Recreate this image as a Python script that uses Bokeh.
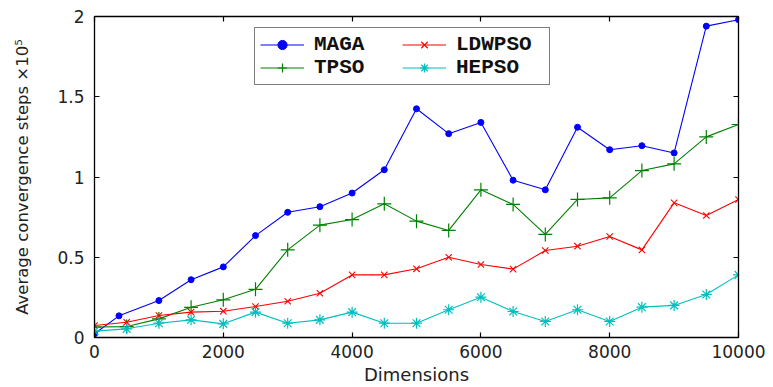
from bokeh.plotting import figure
from bokeh.models import (LinearAxis, Legend, LegendItem, FixedTicker, Range1d,
                          CustomLabelingPolicy)
from bokeh.embed import file_html
from bokeh.resources import INLINE

# ---- data ----
maga_x = [0, 380, 1000, 1500, 2000, 2500, 3000, 3500, 4000, 4500, 5000,
          5500, 6000, 6500, 7000, 7500, 8000, 8500, 9000, 9500, 10000]
maga_y = [0.023, 0.135, 0.23, 0.36, 0.44, 0.635, 0.78, 0.815, 0.90, 1.045, 1.425,
          1.27, 1.34, 0.98, 0.92, 1.31, 1.17, 1.195, 1.15, 1.94, 1.98]

dims = [0, 500, 1000, 1500, 2000, 2500, 3000, 3500, 4000, 4500, 5000,
        5500, 6000, 6500, 7000, 7500, 8000, 8500, 9000, 9500, 10000]
tpso_y = [0.065, 0.068, 0.116, 0.188, 0.235, 0.30, 0.546, 0.70, 0.735, 0.833, 0.725,
          0.667, 0.92, 0.829, 0.642, 0.86, 0.87, 1.04, 1.082, 1.25, 1.327]
ldwpso_y = [0.075, 0.095, 0.137, 0.158, 0.164, 0.193, 0.226, 0.276, 0.39, 0.39, 0.428,
            0.50, 0.455, 0.426, 0.542, 0.569, 0.629, 0.546, 0.839, 0.76, 0.86]
hepso_y = [0.04, 0.054, 0.089, 0.11, 0.085, 0.158, 0.089, 0.11, 0.158, 0.089, 0.089,
           0.173, 0.251, 0.162, 0.10, 0.173, 0.10, 0.189, 0.20, 0.268, 0.39]

x_ticks = [0, 2000, 4000, 6000, 8000, 10000]
y_ticks = [0, 0.5, 1, 1.5, 2]
y_tick_labels = ["0", "0.5", "1", "1.5", "2"]

series_names = ["MAGA", "TPSO", "LDWPSO", "HEPSO"]
x_label = "Dimensions"
y_label = "Average convergence steps \u00d710\u2075"

TICK_FONT = "DejaVu Sans"

p = figure(width=773, height=387, output_backend="svg", toolbar_location=None,
           x_range=Range1d(0, 10000), y_range=Range1d(0, 2),
           min_border_left=94, min_border_right=35, min_border_top=16,
           min_border_bottom=50, background_fill_color="white",
           border_fill_color="white")
p.xgrid.visible = False
p.ygrid.visible = False
p.outline_line_color = "black"
p.outline_line_width = 1

for ax in (p.xaxis[0], p.yaxis[0]):
    ax.major_tick_in = 5
    ax.major_tick_out = 0
    ax.minor_tick_line_color = None
    ax.axis_line_color = "black"
    ax.axis_line_width = 1.3
    ax.major_tick_line_color = "black"
    ax.major_tick_line_width = 1.2
    ax.major_label_text_font = TICK_FONT
    ax.major_label_text_font_size = "17px"
    ax.major_label_text_color = "#222222"
    ax.axis_label_text_font = TICK_FONT
    ax.axis_label_text_font_style = "normal"
    ax.axis_label_text_color = "#222222"

p.xaxis[0].ticker = FixedTicker(ticks=x_ticks)
p.xaxis[0].major_label_standoff = 7
p.xaxis[0].axis_label = x_label
p.xaxis[0].axis_label_text_font_size = "18px"
p.xaxis[0].axis_label_standoff = 3

p.yaxis[0].ticker = FixedTicker(ticks=y_ticks)
p.yaxis[0].major_label_overrides = {t: l for t, l in zip(y_ticks, y_tick_labels)}
p.yaxis[0].major_label_standoff = 10
p.yaxis[0].axis_label = y_label
p.yaxis[0].axis_label_text_font_size = "16.5px"
p.yaxis[0].axis_label_standoff = 22

# box axes (ticks on top and right, labels suppressed)
hide_labels = CustomLabelingPolicy(code="""
try { for (const i of Array.from(indices)) { indices.unset(i) } } catch (e) {}
return indices
""")
top_ax = LinearAxis(ticker=FixedTicker(ticks=x_ticks))
right_ax = LinearAxis(ticker=FixedTicker(ticks=y_ticks))
for ax in (top_ax, right_ax):
    ax.major_tick_in = 5
    ax.major_tick_out = 0
    ax.minor_tick_line_color = None
    ax.axis_line_color = "black"
    ax.axis_line_width = 1.3
    ax.major_tick_line_color = "black"
    ax.major_tick_line_width = 1.2
    ax.major_label_text_font_size = "0px"
    ax.major_label_standoff = 0
    ax.major_label_policy = hide_labels
p.add_layout(top_ax, "above")
p.add_layout(right_ax, "right")

# series
r1l = p.line(maga_x, maga_y, line_color="#0000ff", line_width=1.1)
r1m = p.scatter(maga_x, maga_y, marker="circle", size=6, fill_color="#0000ff",
                line_color="#0000ff")
r2l = p.line(dims, tpso_y, line_color="#008000", line_width=1.1)
r2m = p.scatter(dims, tpso_y, marker="cross", size=14, line_color="#008000",
                line_width=1.2)
r3l = p.line(dims, ldwpso_y, line_color="#ff0000", line_width=1.1)
r3m = p.scatter(dims, ldwpso_y, marker="x", size=9, line_color="#ff0000",
                line_width=1.1)
r4l = p.line(dims, hepso_y, line_color="#00bfbf", line_width=1.1)
r4m = p.scatter(dims, hepso_y, marker="asterisk", size=11, line_color="#00bfbf",
                line_width=1.2)

legend = Legend(items=[
    LegendItem(label=series_names[0], renderers=[r1l, r1m]),
    LegendItem(label=series_names[1], renderers=[r2l, r2m]),
    LegendItem(label=series_names[2], renderers=[r3l, r3m]),
    LegendItem(label=series_names[3], renderers=[r4l, r4m]),
], location=(160, 252), ncols=2)
legend.label_text_font = "Liberation Mono"
legend.label_text_font_size = "21px"
legend.label_text_font_style = "bold"
legend.label_text_color = "#111111"
legend.glyph_width = 44
legend.glyph_height = 23
legend.label_height = 23
legend.label_width = 88
legend.label_standoff = 10
legend.padding = 5
legend.spacing = 0
legend.border_line_color = "black"
legend.border_line_width = 1.5
legend.background_fill_alpha = 1
p.add_layout(legend, "center")

open("out.html", "w").write(file_html(p, INLINE))
